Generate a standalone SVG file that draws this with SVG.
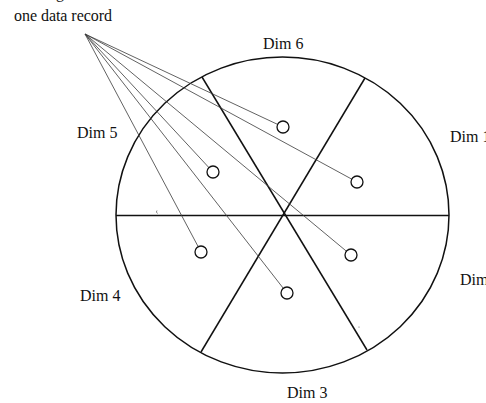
<svg xmlns="http://www.w3.org/2000/svg" width="486" height="403" viewBox="0 0 486 403">
<style>
.t{font-family:"Liberation Serif","Times New Roman",serif;fill:#111;font-size:16px}
.b{fill:none;stroke:#111;stroke-width:1.5}
.f{fill:none;stroke:#3a3a3a;stroke-width:0.8}
.c{fill:#fff;stroke:#111;stroke-width:1.3}
</style>
<rect width="486" height="403" fill="#fff"/>
<text class="t" x="60" y="-2.5" font-size="30" text-anchor="middle">g</text>
<g id="record">
<text class="t" x="14" y="21" font-size="13" textLength="98" lengthAdjust="spacing">one data record</text>
</g>
<g id="circle-plot">
<ellipse class="b" cx="282.5" cy="215" rx="166.5" ry="158"/>
<line class="b" x1="116" y1="215.5" x2="449" y2="215.5"/>
<line class="b" x1="202" y1="77" x2="367" y2="350"/>
<line class="b" x1="365" y1="78" x2="201" y2="352"/>
<path d="M157 210.5q-1.5 1.5 0.5 3" fill="none" stroke="#555" stroke-width="0.7"/>
<circle cx="359" cy="327" r="0.6" fill="#666"/>
</g>
<g id="labels">
<text class="t" x="263" y="49">Dim 6</text>
<text class="t" x="77" y="138">Dim 5</text>
<text class="t" x="450" y="142">Dim 1</text>
<text class="t" x="460" y="285">Dim 2</text>
<text class="t" x="80" y="301">Dim 4</text>
<text class="t" x="287" y="398">Dim 3</text>
</g>
<g id="connectors">
<line class="f" x1="85" y1="34" x2="277.6" y2="124.4"/>
<line class="f" x1="85" y1="34" x2="351.7" y2="179.1"/>
<line class="f" x1="85" y1="34" x2="208.9" y2="167.6"/>
<line class="f" x1="85" y1="34" x2="346.4" y2="251.2"/>
<line class="f" x1="85" y1="34" x2="283.3" y2="288.3"/>
<line class="f" x1="85" y1="34" x2="198.2" y2="246.7"/>
</g>
<g id="p1"><circle class="c" cx="283" cy="127" r="6"/></g>
<g id="p2"><circle class="c" cx="357" cy="182" r="6"/></g>
<g id="p3"><circle class="c" cx="213" cy="172" r="6"/></g>
<g id="p4"><circle class="c" cx="351" cy="255" r="6"/></g>
<g id="p5"><circle class="c" cx="287" cy="293" r="6"/></g>
<g id="p6"><circle class="c" cx="201" cy="252" r="6"/></g>
</svg>
